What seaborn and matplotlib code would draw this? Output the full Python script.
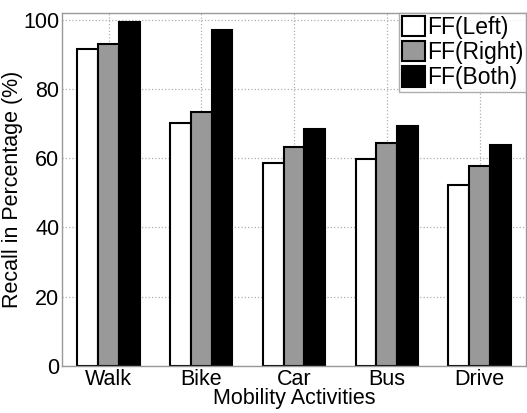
import pandas as pd
import matplotlib
matplotlib.use('Agg')
import matplotlib.pyplot as plt
import seaborn as sns

# --- data ---
activities = ['Walk', 'Bike', 'Car', 'Bus', 'Drive']
ff_left = [91.6, 70.2, 58.7, 59.7, 52.4]
ff_right = [93.0, 73.4, 63.2, 64.3, 57.7]
ff_both = [99.4, 97.1, 68.4, 69.3, 63.8]
series_names = ['FF(Left)', 'FF(Right)', 'FF(Both)']
y_ticks = [0, 20, 40, 60, 80, 100]

rows = []
for name, vals in zip(series_names, [ff_left, ff_right, ff_both]):
    for act, v in zip(activities, vals):
        rows.append({'activity': act, 'series': name, 'recall': v})
df = pd.DataFrame(rows)

sns.set_style('white')
plt.rcParams['font.family'] = ['Liberation Sans', 'DejaVu Sans']
plt.rcParams['text.color'] = 'black'
plt.rcParams['axes.labelcolor'] = 'black'
plt.rcParams['xtick.color'] = 'black'
plt.rcParams['ytick.color'] = 'black'

fig = plt.figure(figsize=(5.27, 4.13), dpi=100)
ax = fig.add_axes([0.118, 0.114, 0.880, 0.855])

palette = {'FF(Left)': 'white', 'FF(Right)': '#999999', 'FF(Both)': 'black'}
sns.barplot(data=df, x='activity', y='recall', hue='series', order=activities,
            hue_order=series_names, palette=palette, width=0.67,
            edgecolor='black', linewidth=1.5, saturation=1, ax=ax)

ax.set_xlim(-0.5, 4.5)
ax.set_ylim(0, 102)
ax.set_yticks(y_ticks)
ax.grid(True, linestyle=':', color='#b0b0b0', linewidth=0.9)
ax.set_axisbelow(True)
for s in ax.spines.values():
    s.set_color('#999999')
    s.set_linewidth(1)
ax.tick_params(axis='both', labelsize=15.5, direction='in', length=3, color='#999999',
               labelcolor='black', pad=2)

ax.set_ylabel('Recall in Percentage (%)', fontsize=15.5, labelpad=0)
ax.set_xlabel('Mobility Activities', fontsize=15.5, labelpad=-1)

leg = ax.legend(loc='upper right', fontsize=16.5, frameon=True, fancybox=False,
                borderaxespad=0, handlelength=1.0, handleheight=1.0,
                handletextpad=0.1, labelspacing=0.1, borderpad=0.12)
leg.get_frame().set_edgecolor('#999999')
leg.get_frame().set_linewidth(1)

plt.savefig('out.png', dpi=100)
